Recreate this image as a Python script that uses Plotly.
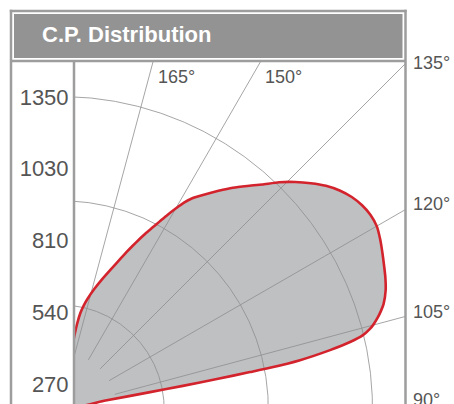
import numpy as np
import plotly.graph_objects as go

# ---------------- data ----------------
title_text = "C.P. Distribution"

# photometric curve: vertical angle (deg, 90 = horizontal, 180 = zenith) and candela
curve_angle = [100.3, 100.5, 100.6, 100.65, 100.8, 101.0, 101.1, 101.5, 102.3, 103.0,
               103.7, 104.5, 105.0, 106.0, 107.0, 108.0, 110.0, 112.0, 114.0, 116.0,
               118.0, 120.0, 122.0, 124.0, 126.0, 128.0, 130.0, 132.0, 134.0, 136.0,
               138.0, 140.0, 142.0, 144.0, 146.0, 147.8, 149.0, 150.0, 151.0, 152.0,
               153.0, 154.0, 155.0, 156.0, 157.0, 158.0, 160.0, 162.0, 164.0, 166.0,
               167.0, 168.0, 168.6, 169.0, 169.3, 169.5]
curve_cd = [0, 200, 396, 540, 690, 836, 924, 1058, 1194, 1286,
            1347, 1383, 1400, 1427, 1450, 1470, 1497, 1516, 1532, 1549,
            1566, 1580, 1582, 1574, 1558, 1533, 1500, 1458, 1412, 1362,
            1305, 1258, 1213, 1165, 1118, 1077, 1040, 1000, 960, 918,
            880, 845, 808, 772, 737, 703, 642, 590, 540, 490,
            462, 425, 380, 300, 150, 0]

grid_radii = [450, 900, 1350]
radial_angles = [105, 120, 135, 150, 165]
radial_start_cd = 245
right_label_angles = [135, 120, 105, 90]
top_label_angles = [165, 150]
left_tick_values = [270, 540, 810, 1080, 1350]
left_tick_text = ["270", "540", "810", "1030", "1350"]

# ---------------- geometry (page pixels) ----------------
W, H = 454, 404
CX, CY = 60, 409                 # polar origin
K = 312.5 / 1350                 # pixels per candela
PL, PR, PT, PB = 75, 405, 62, 404  # plot area
LEFT_TOP_PX, LEFT_BOT_PX = 97, 384  # rows of first/last left labels
RIGHT_LABEL_ROWS = [62.5, 204, 312, 400]  # vertical centres of the right labels
TOP_LABEL_ROW = 77

FONT = "Liberation Sans, Arial, Helvetica, sans-serif"
GRID = "#8e8e8e"
FRAME = "#9d9d9d"
TXT = "#555555"


def px(x):
    return x / W


def py(y):
    return 1 - y / H


def to_xy(theta, r):
    phi = np.radians(np.asarray(theta, dtype=float) - 90.0)
    r = np.asarray(r, dtype=float)
    return r * np.cos(phi), r * np.sin(phi)


xr = [(PL - CX) / K, (PR - CX) / K]
yr = [(CY - PB) / K, (CY - PT) / K]

fig = go.Figure()

# filled distribution
cx, cy = to_xy(curve_angle, curve_cd)
fig.add_trace(go.Scatter(x=cx, y=cy, mode="lines", fill="toself",
                         fillcolor="#bfc0c2", line=dict(width=0, shape="spline", smoothing=0.5),
                         hoverinfo="skip", showlegend=False))

# grid arcs
arc_t = np.linspace(88, 182, 300)
for rr in grid_radii:
    ax_, ay_ = to_xy(arc_t, np.full_like(arc_t, rr))
    fig.add_trace(go.Scatter(x=ax_, y=ay_, mode="lines", line=dict(color=GRID, width=0.8),
                             hoverinfo="skip", showlegend=False))

# radial lines
for a in radial_angles:
    lx, ly = to_xy([a, a], [radial_start_cd, 3000])
    fig.add_trace(go.Scatter(x=lx, y=ly, mode="lines", line=dict(color=GRID, width=0.8),
                             hoverinfo="skip", showlegend=False))

# red outline
fig.add_trace(go.Scatter(x=cx, y=cy, mode="lines",
                         line=dict(color="#d3232c", width=2.6, shape="spline", smoothing=0.5),
                         hoverinfo="skip", showlegend=False))

# left axis labels on a helper axis
lk = (LEFT_BOT_PX - LEFT_TOP_PX) / (left_tick_values[-1] - left_tick_values[0])
y2r = [left_tick_values[0] - (PB - LEFT_BOT_PX) / lk,
       left_tick_values[-1] + (LEFT_TOP_PX - PT) / lk]
fig.add_trace(go.Scatter(x=[xr[0]], y=[left_tick_values[0]], yaxis="y2", mode="markers",
                         marker=dict(size=0.1, color="rgba(0,0,0,0)"), hoverinfo="skip",
                         showlegend=False))

annotations = []
# right labels
for a, row in zip(right_label_angles, RIGHT_LABEL_ROWS):
    annotations.append(dict(text=f"{a}°", x=px(PR + 6), xref="paper", y=py(row), yref="paper",
                            xanchor="left", yanchor="middle", showarrow=False,
                            font=dict(family=FONT, size=18, color=TXT)))
# top labels
for a in top_label_angles:
    phi = np.radians(a - 90)
    xv = yr[1] / np.tan(phi)
    annotations.append(dict(text=f"{a}°", x=xv, xref="x", y=py(TOP_LABEL_ROW), yref="paper",
                            xanchor="left", yanchor="middle", showarrow=False, xshift=3,
                            font=dict(family=FONT, size=18, color=TXT)))
# title
annotations.append(dict(text=f"<b>{title_text}</b>", x=px(40), xref="paper", y=py(35),
                        yref="paper", xanchor="left", yanchor="middle", showarrow=False,
                        font=dict(family=FONT, size=22, color="#ffffff")))

shapes = [
    dict(type="rect", xref="paper", yref="paper", x0=px(14), x1=px(402.5), y0=py(14), y1=py(58),
         fillcolor="#939393", line=dict(width=0), layer="above"),
    dict(type="line", xref="paper", yref="paper", x0=px(11), x1=px(11), y0=py(9.8), y1=py(420),
         line=dict(color=FRAME, width=2.5), layer="above"),
    dict(type="line", xref="paper", yref="paper", x0=px(9.8), x1=px(406.7), y0=py(11), y1=py(11),
         line=dict(color=FRAME, width=2.5), layer="above"),
    dict(type="line", xref="paper", yref="paper", x0=px(405.5), x1=px(405.5), y0=py(9.8), y1=py(420),
         line=dict(color=FRAME, width=2.5), layer="above"),
    dict(type="line", xref="paper", yref="paper", x0=px(11), x1=px(405.5), y0=py(61), y1=py(61),
         line=dict(color=FRAME, width=2.5), layer="above"),
    dict(type="line", xref="paper", yref="paper", x0=px(74), x1=px(74), y0=py(61), y1=py(420),
         line=dict(color=FRAME, width=2.5), layer="above"),
]

fig.update_layout(
    width=W, height=H, template="none",
    margin=dict(l=0, r=0, t=0, b=0, pad=0),
    paper_bgcolor="white", plot_bgcolor="white",
    showlegend=False, hovermode=False,
    xaxis=dict(domain=[px(PL), px(PR)], range=xr, visible=False, fixedrange=True,
               automargin=False),
    yaxis=dict(domain=[max(0.0, py(PB)), py(PT)], range=yr, visible=False, fixedrange=True,
               automargin=False),
    yaxis2=dict(overlaying="y", anchor="x", side="left", range=y2r, tickmode="array",
                tickvals=left_tick_values, ticktext=left_tick_text, showgrid=False,
                zeroline=False, showline=False, ticks="outside", ticklen=1,
                tickcolor="rgba(0,0,0,0)", automargin=False,
                tickfont=dict(family=FONT, size=22, color=TXT), fixedrange=True),
    annotations=annotations,
    shapes=shapes,
)

fig.write_html(
    "out.html",
    config={"displayModeBar": False, "staticPlot": True},
    post_script="document.body.style.margin='0px';"
                "document.documentElement.style.overflow='hidden';"
                "document.body.style.overflow='hidden';",
)
